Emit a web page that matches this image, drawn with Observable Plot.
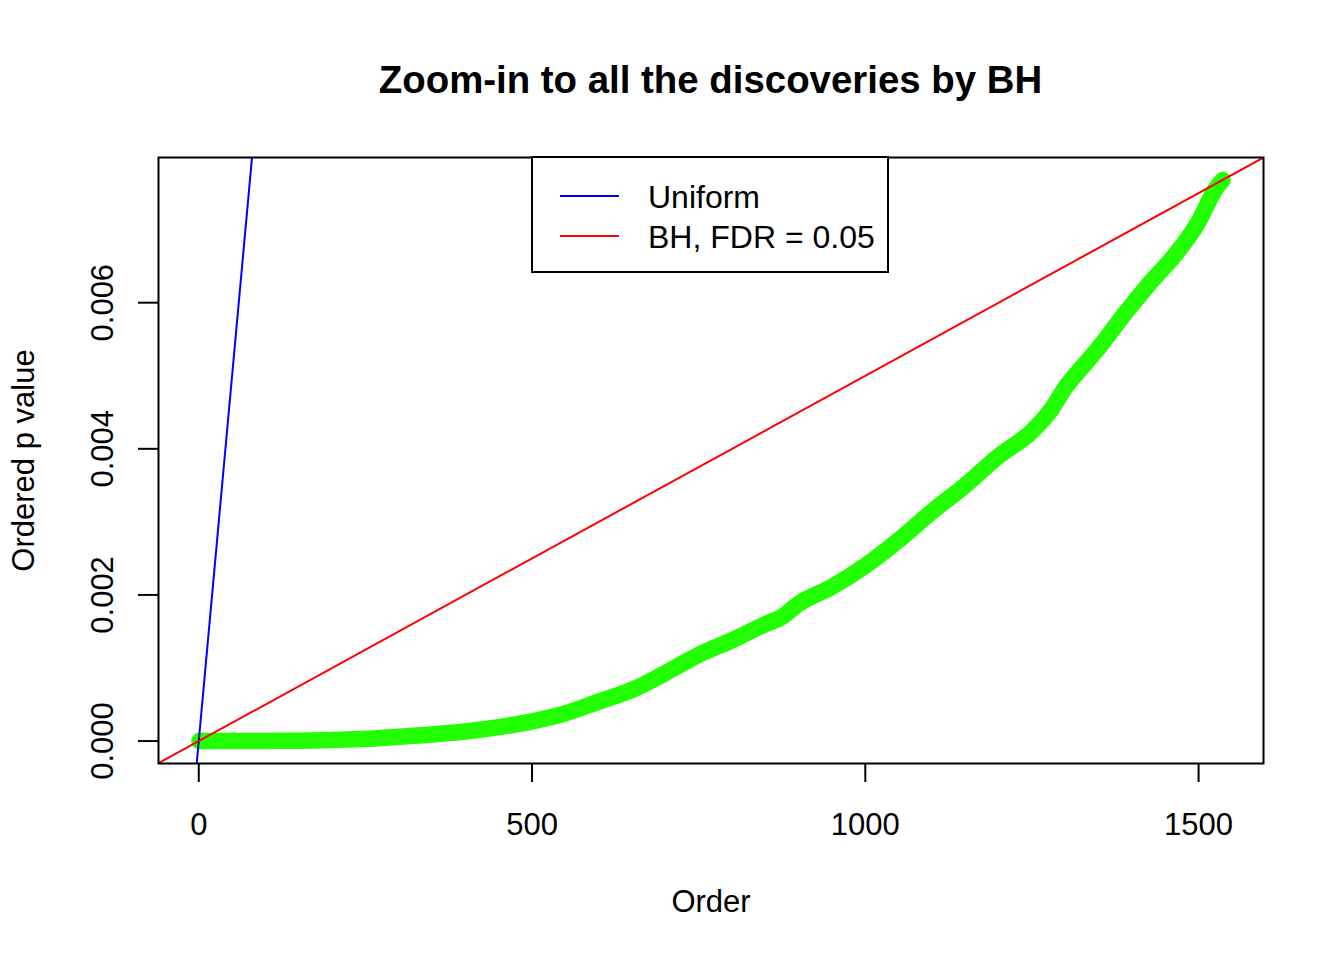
<!DOCTYPE html>
<html>
<head>
<meta charset="utf-8">
<script src="https://cdn.jsdelivr.net/npm/d3@7"></script>
<script src="https://cdn.jsdelivr.net/npm/@observablehq/plot@0.6"></script>
<style>
  html, body { margin: 0; padding: 0; background: #fff; }
  body { font-family: "Liberation Sans", Arial, Helvetica, sans-serif; }
  #wrap { position: relative; width: 1344px; height: 960px; overflow: hidden; }
  #chart { position: absolute; left: 0; top: 0; }
  #title { position: absolute; left: 158px; width: 1105px; top: 61px; text-align: center;
           font-weight: bold; font-size: 38.4px; line-height: 38.4px; color: #000; white-space: nowrap; }
  #legend { position: absolute; left: 531px; top: 156px; }
</style>
</head>
<body>
<div id="wrap">
  <div id="chart"></div>
  <div id="title">Zoom-in to all the discoveries by BH</div>
  <svg id="legend" width="359" height="118" xmlns="http://www.w3.org/2000/svg"></svg>
</div>
<script>
// ---- data ----
const titleText = "Zoom-in to all the discoveries by BH";
const xLabel = "Order";
const yLabel = "Ordered p value";
const xTicks = [0, 500, 1000, 1500];
const yTicks = [0, 0.002, 0.004, 0.006];
const legendLabels = ["Uniform", "BH, FDR = 0.05"];
const legendColors = ["#0000ff", "#ff0000"];
const nTests = 10000;      // total hypotheses (uniform line slope 1/m)
const fdrLevel = 0.05;     // BH line slope alpha/m
// ordered p values of the discoveries (order, p)
const discOrder = [1, 50, 100, 150, 200, 250, 300, 350, 400, 450, 500, 550, 600, 650, 700, 750, 800, 850, 875, 900, 950, 1000, 1050, 1100, 1150, 1200, 1250, 1280, 1300, 1317, 1350, 1392, 1400, 1429, 1450, 1467, 1500, 1525, 1536];
const discP = [0, 0, 0.000002, 0.000005, 0.000015, 0.00003, 0.00006, 0.00009, 0.00013, 0.00019, 0.00027, 0.00038, 0.00054, 0.0007, 0.00093, 0.00118, 0.00138, 0.0016, 0.0017, 0.00188, 0.00211, 0.0024, 0.00275, 0.00314, 0.0035, 0.0039, 0.00424, 0.00455, 0.00484, 0.00503, 0.00538, 0.00588, 0.00597, 0.00629, 0.0065, 0.00668, 0.00711, 0.00755, 0.00768];

// ---- derived ----
const pts = discOrder.map((o, i) => ({order: o, p: discP[i]}));
const xMin = d3.min(discOrder), xMax = d3.max(discOrder);
const yMin = d3.min(discP), yMax = d3.max(discP);
const xPad = (xMax - xMin) * 0.04, yPad = (yMax - yMin) * 0.04;
const xDomain = [xMin - xPad, xMax + xPad];
const yDomain = [yMin - yPad, yMax + yPad];
const lineX = xDomain;
const uniformLine = lineX.map(x => ({x, y: x / nTests}));
const bhLine = lineX.map(x => ({x, y: fdrLevel * x / nTests}));

const font = '"Liberation Sans", Arial, Helvetica, sans-serif';
const chart = Plot.plot({
  width: 1344,
  height: 960,
  marginLeft: 158,
  marginRight: 81,
  marginTop: 157,
  marginBottom: 197,
  style: {fontFamily: font, fontSize: "31px", background: "transparent", color: "#000", overflow: "visible"},
  x: {domain: xDomain},
  y: {domain: yDomain},
  marks: [
    Plot.line(pts, {x: "order", y: "p", stroke: "#22ff00", strokeWidth: 16.5, strokeLinecap: "round", strokeLinejoin: "round", curve: "monotone-x"}),
    Plot.line(uniformLine, {x: "x", y: "y", stroke: legendColors[0], strokeWidth: 2, clip: true}),
    Plot.line(bhLine, {x: "x", y: "y", stroke: legendColors[1], strokeWidth: 2, clip: true}),
    Plot.frame({stroke: "#000", strokeWidth: 2}),
    Plot.axisX({ticks: xTicks, tickSize: 19, tickFormat: () => "", label: null, strokeWidth: 2}),
    Plot.axisY({ticks: yTicks, tickSize: 20, tickFormat: () => "", label: null, strokeWidth: 2}),
    Plot.text(xTicks, {x: d => d, text: d => String(d), frameAnchor: "bottom", dy: 71, lineAnchor: "bottom", fontSize: 31, fill: "#000"}),
    Plot.text(yTicks, {y: d => d, text: d => d3.format(".3f")(d), frameAnchor: "left", dx: -46, rotate: -90, textAnchor: "middle", lineAnchor: "bottom", fontSize: 31, fill: "#000"}),
    Plot.text([xLabel], {text: d => d, frameAnchor: "bottom", dy: 148, lineAnchor: "bottom", fontSize: 31, fill: "#000"}),
    Plot.text([yLabel], {text: d => d, frameAnchor: "left", dx: -125, rotate: -90, textAnchor: "middle", lineAnchor: "bottom", fontSize: 31, fill: "#000"})
  ]
});
document.getElementById("chart").appendChild(chart);
document.getElementById("title").textContent = titleText;

// legend (box with line keys)
const lg = d3.select("#legend");
lg.append("rect").attr("x", 1).attr("y", 1).attr("width", 356).attr("height", 115)
  .attr("fill", "#fff").attr("stroke", "#000").attr("stroke-width", 2);
legendLabels.forEach((lab, i) => {
  const cy = 40 + i * 40;
  lg.append("line").attr("x1", 29).attr("x2", 88).attr("y1", cy).attr("y2", cy)
    .attr("stroke", legendColors[i]).attr("stroke-width", 2);
  lg.append("text").attr("x", 117).attr("y", cy + 11.5).attr("font-family", font)
    .attr("font-size", 32).attr("fill", "#000").text(lab);
});
</script>
</body>
</html>
